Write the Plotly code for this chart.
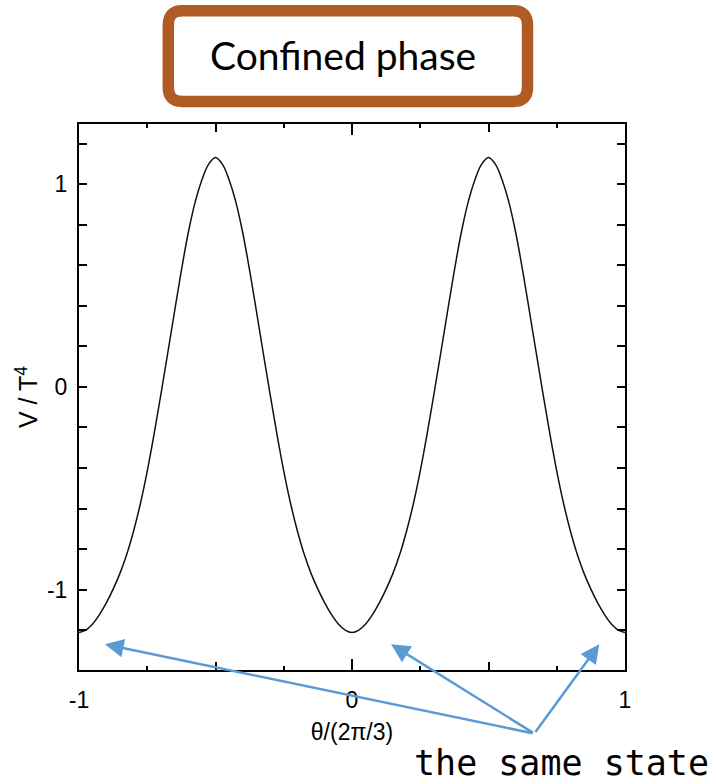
import numpy as np
import plotly.graph_objects as go

# ---------------- data ----------------
theta = np.round(np.linspace(-1.0, 1.0, 81), 3).tolist()   # θ/(2π/3)
V = [
    # -1.000 ... -0.500
    -1.212, -1.200, -1.170, -1.124, -1.066, -0.998, -0.920, -0.826, -0.711, -0.575, -0.415,
    -0.233, -0.036, 0.167, 0.373, 0.575, 0.760, 0.910, 1.022, 1.100, 1.133,
    # -0.475 ... 0.000
    1.100, 1.022, 0.910, 0.760, 0.575, 0.373, 0.167, -0.036, -0.233, -0.415,
    -0.575, -0.711, -0.826, -0.920, -0.998, -1.066, -1.124, -1.170, -1.200, -1.212,
    # 0.025 ... 0.500
    -1.200, -1.170, -1.124, -1.066, -0.998, -0.920, -0.826, -0.711, -0.575, -0.415,
    -0.233, -0.036, 0.167, 0.373, 0.575, 0.760, 0.910, 1.022, 1.100, 1.133,
    # 0.525 ... 1.000
    1.100, 1.022, 0.910, 0.760, 0.575, 0.373, 0.167, -0.036, -0.233, -0.415,
    -0.575, -0.711, -0.826, -0.920, -0.998, -1.066, -1.124, -1.170, -1.200, -1.212,
]
x_tickvals = [-1, -0.5, 0, 0.5, 1]
x_ticktext = ["-1", "", "0", "", "1"]
y_tickvals = [-1, 0, 1]
y_ticktext = ["-1", "0", "1"]
title_text = "Confined phase"
note_text = "the same state"
arrow_heads_x = [-0.905, 0.143, 0.906]   # points marked as "the same state"
arrow_heads_y = [-1.270, -1.270, -1.270]

# ---------------- layout geometry ----------------
W, H = 716, 784
L, R, T, B = 79, 91, 124, 114
PW = W - L - R
PH = H - T - B

def px(xp):
    return (xp - L) / PW

def py(yp):
    return (H - B - yp) / PH

BLUE = "#5B9BD5"
BROWN = "#B15B24"
FONT = "Liberation Sans, Arial, sans-serif"

fig = go.Figure()
fig.add_trace(go.Scatter(
    x=theta, y=V, mode="lines",
    line=dict(color="#111111", width=1.5, shape="spline", smoothing=1.0),
    showlegend=False, hoverinfo="skip",
))
# helper trace for the long ticks overlay axis
fig.add_trace(go.Scatter(x=[-1, 1], y=[0, 0], xaxis="x2", mode="markers",
                         marker=dict(opacity=0), showlegend=False, hoverinfo="skip"))

axis_common = dict(
    showline=True, linewidth=2, linecolor="black", mirror="allticks",
    ticks="inside", tickwidth=1.5, tickcolor="black",
    showgrid=False, zeroline=False,
    tickfont=dict(family=FONT, size=23, color="black"),
)

fig.update_layout(
    width=W, height=H,
    margin=dict(l=L, r=R, t=T, b=B),
    plot_bgcolor="white", paper_bgcolor="white",
    xaxis=dict(
        range=[-1, 1], tickmode="array", tickvals=x_tickvals, ticktext=x_ticktext,
        ticklen=8, ticklabelstandoff=8,
        minor=dict(tickmode="array", tickvals=[-0.75, -0.25, 0.25, 0.75],
                   ticks="inside", ticklen=4, tickwidth=1.5, tickcolor="black"),
        title=dict(text="θ/(2π/3)", font=dict(family=FONT, size=23, color="black"), standoff=12),
        **axis_common,
    ),
    xaxis2=dict(
        overlaying="x", matches="x", side="bottom",
        tickmode="array", tickvals=[-1, 0, 1], ticks="inside", ticklen=11, tickwidth=1.5,
        tickcolor="black", showticklabels=False, showline=False, mirror="allticks",
        showgrid=False, zeroline=False,
    ),
    yaxis=dict(
        range=[-1.397, 1.298], tickmode="array", tickvals=y_tickvals, ticktext=y_ticktext,
        ticklen=8, ticklabelstandoff=5,
        minor=dict(tick0=0, dtick=0.2, ticks="inside", ticklen=5, tickwidth=1.5, tickcolor="black"),
        title=dict(text="V / T<sup>4</sup>", font=dict(family=FONT, size=25, color="black"), standoff=2),
        **axis_common,
    ),
)

# rounded title box
x0, x1, y0, y1, r = 168.3, 527.5, 10.8, 101.5, 14
path = (
    f"M {px(x0 + r)} {py(y0)} L {px(x1 - r)} {py(y0)} Q {px(x1)} {py(y0)} {px(x1)} {py(y0 + r)} "
    f"L {px(x1)} {py(y1 - r)} Q {px(x1)} {py(y1)} {px(x1 - r)} {py(y1)} "
    f"L {px(x0 + r)} {py(y1)} Q {px(x0)} {py(y1)} {px(x0)} {py(y1 - r)} "
    f"L {px(x0)} {py(y0 + r)} Q {px(x0)} {py(y0)} {px(x0 + r)} {py(y0)} Z"
)
fig.add_shape(type="path", path=path, xref="paper", yref="paper",
              line=dict(color=BROWN, width=11.5), fillcolor="white", layer="above")

fig.add_annotation(text=title_text, x=px(343), y=py(55), xref="paper", yref="paper",
                   xanchor="center", yanchor="middle", showarrow=False,
                   font=dict(family="Lato, Noto Sans, sans-serif", size=39, color="black"))

# arrows
tail_x, tail_y = 534.3, 733.3
head_px = [105, 391, 599.3]
for hx, hy, hp in zip(arrow_heads_x, arrow_heads_y, head_px):
    fig.add_annotation(x=hx, y=hy, xref="x", yref="y", text="", showarrow=True,
                       ax=tail_x - hp, ay=tail_y - 644, axref="pixel", ayref="pixel",
                       arrowhead=2, arrowsize=1.5, arrowwidth=2.5, arrowcolor=BLUE,
                       standoff=0, startstandoff=0)

fig.add_annotation(text=note_text, x=px(412), y=py(763), xref="paper", yref="paper",
                   xanchor="left", yanchor="middle", showarrow=False,
                   font=dict(family="DejaVu Sans Mono, monospace", size=35, color="black"))

fig.write_html("out.html")
